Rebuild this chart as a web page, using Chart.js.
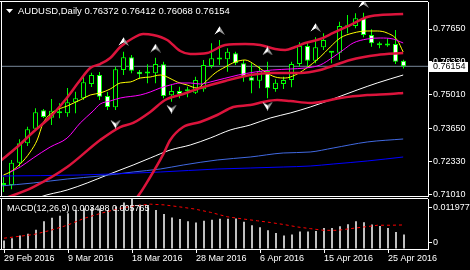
<!DOCTYPE html>
<html>
<head>
<meta charset="utf-8">
<script src="https://cdn.jsdelivr.net/npm/chart.js@4.4.0/dist/chart.umd.min.js"></script>
<style>
  html, body { margin: 0; padding: 0; background: #000; }
  #wrap { position: relative; width: 470px; height: 270px; background: #000; overflow: hidden; }
  canvas { position: absolute; left: 0; }
  #main { top: 0; }
  #macd { top: 197px; }
</style>
</head>
<body>
<div id="wrap">
  <canvas id="main" width="470" height="197"></canvas>
  <canvas id="macd" width="470" height="73"></canvas>
</div>
<script>
// ---- data ----
const symbol = 'AUDUSD,Daily';

const barDates = ['29 Feb 2016','1 Mar 2016','2 Mar 2016','3 Mar 2016','4 Mar 2016','6 Mar 2016','7 Mar 2016','8 Mar 2016',
  '9 Mar 2016','10 Mar 2016','11 Mar 2016','13 Mar 2016','14 Mar 2016','15 Mar 2016','16 Mar 2016','17 Mar 2016',
  '18 Mar 2016','20 Mar 2016','21 Mar 2016','22 Mar 2016','23 Mar 2016','24 Mar 2016','25 Mar 2016','27 Mar 2016',
  '28 Mar 2016','29 Mar 2016','30 Mar 2016','31 Mar 2016','1 Apr 2016','3 Apr 2016','4 Apr 2016','5 Apr 2016',
  '6 Apr 2016','7 Apr 2016','8 Apr 2016','10 Apr 2016','11 Apr 2016','12 Apr 2016','13 Apr 2016','14 Apr 2016',
  '15 Apr 2016','17 Apr 2016','18 Apr 2016','19 Apr 2016','20 Apr 2016','21 Apr 2016','22 Apr 2016','24 Apr 2016',
  '25 Apr 2016','26 Apr 2016','27 Apr 2016'];
const dateTickBars = [0, 8, 16, 24, 32, 40, 48];

const opens  = [0.71394,0.71394,0.72289,0.73067,0.73652,0.74390,0.74093,0.74350,0.74270,0.74711,
  0.74871,0.75444,0.75805,0.74963,0.74510,0.76006,0.76515,0.75938,0.75866,0.75874,
  0.76234,0.74991,0.75164,0.75164,0.75096,0.75232,0.76166,0.76427,0.76435,0.76676,
  0.76275,0.75713,0.75577,0.75966,0.75244,0.75444,0.75605,0.76246,0.76968,0.76379,
  0.76916,0.76708,0.76700,0.77718,0.77770,0.78079,0.77409,0.77008,0.76986,0.77048,0.76372];
const highs  = [0.71715,0.72397,0.73227,0.73732,0.74470,0.74442,0.74843,0.74671,0.75284,0.75136,
  0.75805,0.75898,0.75926,0.75124,0.76138,0.76740,0.76607,0.76006,0.76234,0.76499,
  0.76339,0.75404,0.75336,0.75336,0.75737,0.76407,0.77077,0.77209,0.76876,0.76740,
  0.76407,0.76275,0.76166,0.76339,0.75633,0.75737,0.76339,0.77117,0.77101,0.77317,
  0.77478,0.76728,0.77943,0.78211,0.78280,0.78304,0.77638,0.77141,0.77277,0.77610,0.76412];
const lows   = [0.71114,0.71222,0.72128,0.72958,0.73600,0.74081,0.73800,0.74069,0.74133,0.74270,
  0.74803,0.75324,0.74803,0.74402,0.74402,0.75805,0.75874,0.75673,0.75473,0.75473,
  0.74871,0.74735,0.74871,0.74911,0.75043,0.75136,0.76074,0.76206,0.75938,0.76206,
  0.75537,0.75072,0.75272,0.74871,0.75136,0.75244,0.75312,0.76138,0.76138,0.76275,
  0.76808,0.76275,0.76407,0.77478,0.77678,0.77317,0.76940,0.76876,0.76940,0.76246,0.76068];
const closes = [0.71434,0.72289,0.73067,0.73628,0.74310,0.74121,0.74374,0.74270,0.74711,0.74871,
  0.75513,0.75805,0.74935,0.74522,0.76034,0.76515,0.75978,0.75833,0.75886,0.76246,
  0.74963,0.75164,0.75043,0.75152,0.75605,0.76206,0.76475,0.76447,0.76740,0.76275,
  0.75713,0.75577,0.75966,0.75272,0.75497,0.75605,0.76246,0.76968,0.76379,0.76916,
  0.77209,0.76700,0.77770,0.77770,0.78079,0.77409,0.77077,0.76996,0.77010,0.76339,0.76154];

// Bollinger bands (bar position, price)
const upperBandX = [-0.41,1.71,3.71,5.84,7.71,9.59,10.84,12.09,13.34,14.59,16.21,17.46,18.71,20.46,22.09,
  23.34,25.46,27.71,30.21,32.09,33.96,35.21,36.46,37.71,39.59,41.21,43.34,45.46,47.09,49.96];
const upperBandY = [0.72357,0.72918,0.73520,0.74121,0.74803,0.75605,0.76086,0.76246,0.76487,0.76928,0.77289,0.77449,0.77409,0.77209,0.76768,
  0.76647,0.76688,0.77008,0.77048,0.77008,0.76848,0.76808,0.76928,0.77089,0.77249,0.77490,0.77810,0.78131,0.78211,0.78252];
const midBandX = [-0.41,3.71,7.96,12.09,14.59,16.21,18.34,20.21,22.46,24.59,27.71,30.84,33.59,37.09,39.59,41.46,43.34,46.71,49.96];
const midBandY = [0.70793,0.71314,0.72116,0.73199,0.73720,0.73881,0.74322,0.74803,0.75043,0.75284,0.75565,0.75805,0.75886,0.75886,
  0.76006,0.76206,0.76407,0.76607,0.76688];
const lowBandX = [-0.41,7.71,12.09,14.59,16.71,18.34,19.96,20.84,22.46,24.59,26.71,28.71,30.84,32.46,34.21,35.84,38.34,39.59,
  42.09,45.46,48.34,49.96];
const lowBandY = [0.69200,0.69460,0.70150,0.70510,0.70913,0.71715,0.72620,0.73199,0.73720,0.73921,0.74201,0.74522,0.74602,0.74723,
  0.74803,0.74763,0.74683,0.74723,0.74883,0.75003,0.75043,0.75084];

// moving averages
const yellowX = [0,0.84,2.09,3.34,4.21,4.96,6.21,7.96,9.59,10.84,12.09,13.34,14.59,15.84,17.09,18.34,19.59,20.46,21.71,22.96,
  24.21,25.21,26.46,27.71,28.96,30.21,31.46,32.71,33.96,35.21,36.46,37.71,39.59,40.84,42.09,43.71,45.46,46.71,47.96,49.21,49.96];
const yellowY = [0.71795,0.71916,0.72236,0.72718,0.73199,0.73881,0.74322,0.74562,0.74803,0.75003,0.75084,0.75244,0.75485,0.75525,
  0.75685,0.75725,0.75805,0.75725,0.75525,0.75404,0.75284,0.75525,0.75886,0.76126,0.76327,0.76407,0.76206,0.75926,0.75725,
  0.75685,0.75805,0.76046,0.76527,0.76928,0.77289,0.77490,0.77570,0.77570,0.77490,0.77209,0.76728];
const magentaX = [0.84,2.09,3.71,5.84,7.96,9.59,11.21,12.09,13.34,14.59,17.09,18.34,19.59,20.84,22.09,23.34,24.59,25.84,29.34,
  31.46,33.59,35.84,37.71,39.59,41.21,42.46,43.71,45.46,47.09,48.71,49.96];
const magentaY = [0.71916,0.72116,0.72477,0.72918,0.73279,0.73881,0.74362,0.74642,0.74763,0.74883,0.75003,0.75124,0.75284,0.75404,
  0.75485,0.75485,0.75444,0.75525,0.75805,0.75926,0.76006,0.76046,0.76086,0.76206,0.76527,0.76808,0.77089,0.77249,0.77289,
  0.77249,0.77089];
const whiteX = [3.34,4.59,7.96,10.46,12.96,16.21,18.34,20.84,23.34,25.84,28.34,30.84,33.34,35.84,38.34,40.84,44.21,46.71,49.96];
const whiteY = [0.70713,0.70913,0.71194,0.71475,0.71795,0.72196,0.72477,0.72798,0.72998,0.73279,0.73600,0.73800,0.74081,0.74282,
  0.74522,0.74803,0.75204,0.75485,0.75805];
const royalX = [-0.41,3.71,7.96,12.09,16.21,19.59,22.46,26.71,30.84,34.96,38.34,41.21,45.46,49.96];
const royalY = [0.71354,0.71475,0.71635,0.71755,0.71916,0.72036,0.72196,0.72397,0.72517,0.72678,0.72718,0.72878,0.73119,0.73239];
const blueX = [-0.41,9.59,19.59,26.71,30.84,34.96,38.34,41.21,45.46,49.96];
const blueY = [0.71755,0.71795,0.71916,0.72036,0.72076,0.72116,0.72156,0.72236,0.72357,0.72517];

// fractals
const fracUpX = [15, 19, 27, 33, 39, 45];
const fracUpY = [0.77149, 0.76888, 0.77590, 0.76768, 0.77710, 0.78673];
const fracDnX = [14, 21, 33];
const fracDnY = [0.73840, 0.74442, 0.74562];

const priceTicks = [0.77650, 0.76330, 0.75010, 0.73650, 0.72330, 0.71010];

// MACD(12,26,9)
const macdHist = [0.00203,0.00259,0.00325,0.00366,0.00464,0.00667,0.00747,0.00796,0.00855,0.00935,
  0.00977,0.01008,0.00977,0.00935,0.01016,0.01113,0.011977,0.01057,0.01040,0.00935,
  0.00837,0.00757,0.00716,0.00667,0.00635,0.00675,0.00699,0.00723,0.00723,0.00733,
  0.00650,0.00569,0.00520,0.00447,0.00381,0.00325,0.00349,0.00422,0.00422,0.00430,
  0.00503,0.00503,0.00544,0.00593,0.00667,0.00642,0.00586,0.00552,0.00503,0.00405,0.003498];
const signalX = [0,2.1,3.75,5.8,7.9,10,12.1,14.2,16.25,18.3,20,21.7,23.75,25.8,27.9,30,31.7,33.3,35,36.7,38.3,40,41.7,
  43.3,45,46.7,48.3,50];
const signalY = [0.00259,0.00308,0.00349,0.00447,0.00569,0.00733,0.00855,0.00960,0.01033,0.01074,0.01057,0.01016,0.00960,
  0.00879,0.00772,0.00716,0.00675,0.00635,0.00586,0.00527,0.00488,0.00447,0.00447,0.00488,0.00527,0.00569,0.00569,0.005765];
const macdMax = 0.011977;

// ---- layout constants ----
const X_MIN = -0.1875, X_MAX = 53.0625;
const Y_MIN = 0.709132, Y_MAX = 0.787327;
const FONT = '"Liberation Sans", Arial, sans-serif';

Chart.defaults.font.family = FONT;
Chart.defaults.font.size = 9;
Chart.defaults.color = '#fff';

function pts(xs, ys) {
  return xs.map((x, i) => ({ x: x, y: ys[i] }));
}

function lineSet(xs, ys, color, width, order) {
  return {
    type: 'line',
    data: pts(xs, ys),
    borderColor: color,
    borderWidth: width,
    pointRadius: 0,
    fill: false,
    cubicInterpolationMode: 'monotone',
    order: order
  };
}

// fractal arrow glyph
function arrowGlyph(up) {
  const c = document.createElement('canvas');
  c.width = 11; c.height = 9;
  const g = c.getContext('2d');
  const path = () => {
    g.beginPath();
    if (up) { g.moveTo(5.5, 0); g.lineTo(11, 9); g.lineTo(5.5, 5.5); g.lineTo(0, 9); }
    else { g.moveTo(5.5, 9); g.lineTo(11, 0); g.lineTo(5.5, 3.5); g.lineTo(0, 0); }
    g.closePath();
  };
  path();
  g.fillStyle = '#fff';
  g.fill();
  g.fillStyle = '#9a9a9a';
  g.fillRect(6, 0, 5, 9);
  g.globalCompositeOperation = 'destination-in';
  path();
  g.fill();
  return c;
}

const barIdx = barDates.map((d, i) => i);
const last = closes.length - 1;

const mainDecor = {
  id: 'mainDecor',
  afterDraw(chart) {
    const { ctx, chartArea: a } = chart;
    const ys = chart.scales.y;
    ctx.save();
    ctx.strokeStyle = '#fff';
    ctx.lineWidth = 1;
    ctx.beginPath();
    ctx.moveTo(0, a.top - 0.5); ctx.lineTo(a.right, a.top - 0.5);
    ctx.moveTo(a.left - 0.5, a.top - 0.5); ctx.lineTo(a.left - 0.5, a.bottom);
    ctx.moveTo(0, a.bottom - 0.5); ctx.lineTo(a.right, a.bottom - 0.5);
    ctx.stroke();

    // title
    ctx.fillStyle = '#fff';
    ctx.beginPath();
    ctx.moveTo(6, 9); ctx.lineTo(13, 9); ctx.lineTo(9.5, 13); ctx.closePath();
    ctx.fill();
    ctx.font = '9.5px ' + FONT;
    ctx.textBaseline = 'middle';
    const title = symbol + ' ' + [opens[last], highs[last], lows[last], closes[last]].map(v => v.toFixed(5)).join(' ');
    ctx.fillText(title, 18, 11);

    // current price box
    const py = Math.round(ys.getPixelForValue(closes[last]));
    ctx.fillRect(a.right, py - 4, 40, 10);
    ctx.fillStyle = '#000';
    ctx.font = '9px ' + FONT;
    ctx.fillText(closes[last].toFixed(5), a.right + 5, py + 1);
    ctx.restore();
  }
};

new Chart(document.getElementById('main'), {
  type: 'bar',
  data: {
    datasets: [
      { type: 'line', data: [{ x: X_MIN, y: closes[last] }, { x: X_MAX, y: closes[last] }],
        borderColor: '#778899', borderWidth: 1, pointRadius: 0, order: 10 },
      { type: 'bar', data: barIdx.map(i => ({ x: i, y: [lows[i], highs[i]] })),
        backgroundColor: '#00ff00', barThickness: 1, grouped: false, inflateAmount: 0, order: 6 },
      { type: 'bar', data: barIdx.map(i => ({ x: i, y: [opens[i], closes[i]] })),
        backgroundColor: c => (c.raw && c.raw.y[1] >= c.raw.y[0]) ? '#000' : '#fff',
        borderColor: '#00ff00', borderWidth: 1, borderSkipped: false, minBarLength: 2,
        barThickness: 5, grouped: false, inflateAmount: 0, order: 5 },
      lineSet(blueX, blueY, '#0000ff', 1, 3),
      lineSet(royalX, royalY, '#4169e1', 1, 3),
      lineSet(whiteX, whiteY, '#ffffff', 1, 3),
      lineSet(upperBandX, upperBandY, '#dc143c', 2.5, 2),
      lineSet(midBandX, midBandY, '#dc143c', 2.5, 2),
      lineSet(lowBandX, lowBandY, '#dc143c', 2.5, 2),
      lineSet(magentaX, magentaY, '#ff00ff', 1, 2),
      lineSet(yellowX, yellowY, '#ffff00', 1, 2),
      { type: 'line', data: pts(fracUpX, fracUpY), showLine: false, pointStyle: arrowGlyph(true),
        pointRadius: 5, order: 1 },
      { type: 'line', data: pts(fracDnX, fracDnY), showLine: false, pointStyle: arrowGlyph(false),
        pointRadius: 5, order: 1 }
    ]
  },
  options: {
    responsive: false,
    animation: false,
    events: [],
    layout: { autoPadding: false, padding: { left: 2, top: 2, right: 0, bottom: 0 } },
    plugins: { legend: { display: false }, tooltip: { enabled: false } },
    scales: {
      x: { type: 'linear', min: X_MIN, max: X_MAX, display: false, offset: false },
      y: {
        position: 'right', min: Y_MIN, max: Y_MAX,
        afterBuildTicks: s => { s.ticks = priceTicks.map(v => ({ value: v })); },
        afterFit: s => { s.width = 42; s.paddingTop = 0; s.paddingBottom = 0; },
        ticks: { color: '#fff', padding: 1, callback: v => Number(v).toFixed(5) },
        grid: { drawOnChartArea: false, drawTicks: true, tickLength: 4, color: '#fff' },
        border: { color: '#fff' }
      }
    }
  },
  plugins: [mainDecor]
});

const macdDecor = {
  id: 'macdDecor',
  afterDraw(chart) {
    const { ctx, chartArea: a } = chart;
    const ys = chart.scales.y;
    const topY = Math.round(ys.getPixelForValue(macdMax)) + 8.5;
    const zeroY = Math.round(ys.getPixelForValue(0)) - 6.5;
    ctx.save();
    ctx.strokeStyle = '#fff';
    ctx.lineWidth = 1;
    ctx.beginPath();
    ctx.moveTo(0, a.top - 0.5); ctx.lineTo(a.right, a.top - 0.5);
    ctx.moveTo(a.left - 0.5, a.top - 0.5); ctx.lineTo(a.left - 0.5, a.bottom);
    ctx.moveTo(0, a.bottom + 0.5); ctx.lineTo(a.left, a.bottom + 0.5);
    ctx.moveTo(a.right, topY); ctx.lineTo(a.right + 4, topY);
    ctx.moveTo(a.right, zeroY); ctx.lineTo(a.right + 4, zeroY);
    ctx.stroke();
    ctx.fillStyle = '#fff';
    ctx.font = '9px ' + FONT;
    ctx.textBaseline = 'middle';
    ctx.fillText('MACD(12,26,9) ' + macdHist[last].toFixed(6) + ' ' + signalY[signalY.length - 1].toFixed(6), 7, 11.5);
    ctx.fillText(macdMax.toFixed(6), a.right + 5, topY);
    ctx.fillText('0', a.right + 5, zeroY);
    ctx.restore();
  }
};

// half a pixel to the right so the 2px histogram bars land on whole pixels
const X_MIN_MACD = X_MIN - 0.0625, X_MAX_MACD = X_MAX - 0.0625;

new Chart(document.getElementById('macd'), {
  type: 'bar',
  data: {
    datasets: [
      { type: 'bar', data: barIdx.map(i => ({ x: i, y: macdHist[i] })), backgroundColor: '#c0c0c0',
        barThickness: 2, grouped: false, inflateAmount: 0, order: 2 },
      { type: 'line', data: pts(signalX, signalY), borderColor: '#ff0000', borderWidth: 1,
        borderDash: [3, 3], pointRadius: 0, fill: false, tension: 0, order: 1 }
    ]
  },
  options: {
    responsive: false,
    animation: false,
    events: [],
    layout: { autoPadding: false, padding: { left: 2, top: 2, right: 0, bottom: 0 } },
    plugins: { legend: { display: false }, tooltip: { enabled: false } },
    scales: {
      x: {
        type: 'linear', min: X_MIN_MACD, max: X_MAX_MACD, offset: false, position: 'bottom',
        afterBuildTicks: s => { s.ticks = dateTickBars.map(v => ({ value: v })); },
        afterFit: s => { s.height = 21; s.paddingLeft = 0; s.paddingRight = 0; },
        ticks: { color: '#fff', align: 'start', maxRotation: 0, autoSkip: false, padding: 0,
          callback: v => barDates[v] },
        grid: { offset: false, drawOnChartArea: false, drawTicks: true, tickLength: 4, color: '#fff' },
        border: { color: '#fff' }
      },
      y: {
        position: 'right', min: 0, max: macdMax,
        afterFit: s => { s.width = 42; s.paddingTop = 0; s.paddingBottom = 0; },
        ticks: { display: false },
        grid: { drawOnChartArea: false, drawTicks: false },
        border: { color: '#fff' }
      }
    }
  },
  plugins: [macdDecor]
});
</script>
</body>
</html>
